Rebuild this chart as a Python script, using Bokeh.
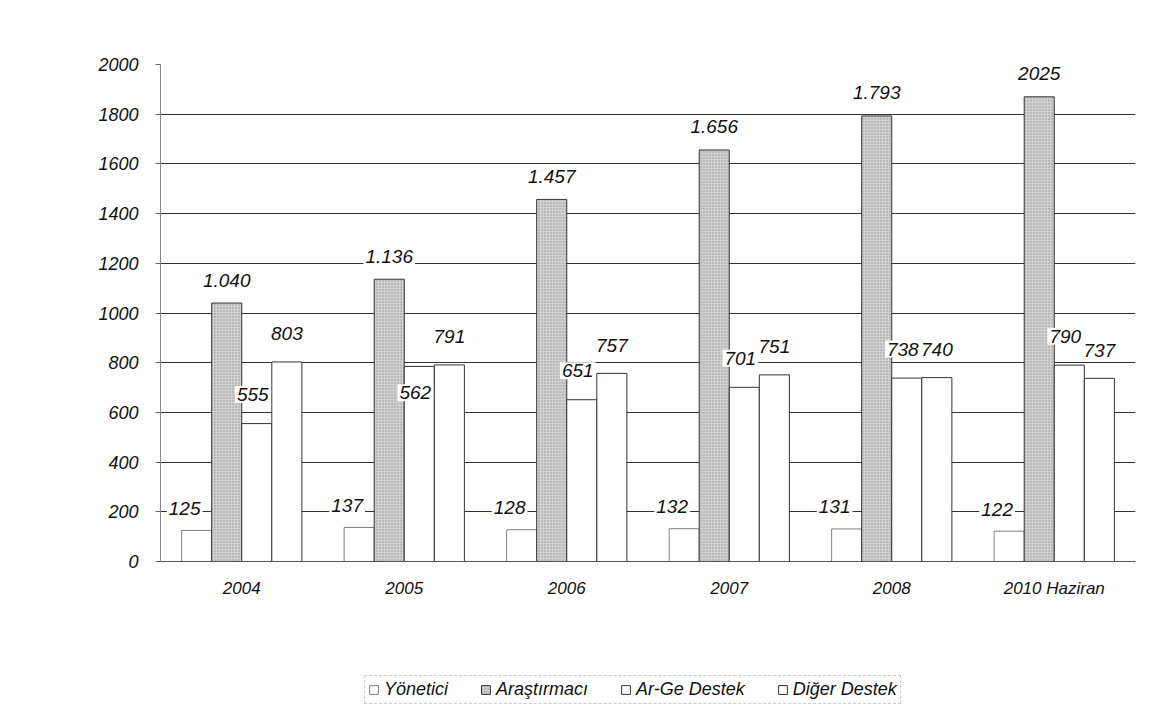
from bokeh.plotting import figure
from bokeh.models import ColumnDataSource, Legend, LegendItem, Range1d, FactorRange, FixedTicker
from bokeh.transform import dodge
from bokeh.core.properties import value
from bokeh.embed import file_html
from bokeh.resources import INLINE

years = ["2004", "2005", "2006", "2007", "2008", "2010 Haziran"]
yonetici = [125, 137, 128, 132, 131, 122]
arastirmaci_values = [1040, 1136, 1457, 1656, 1793, 2025]
arastirmaci_bars = [1040, 1136, 1457, 1656, 1793, 1870]
arastirmaci_labels = ["1.040", "1.136", "1.457", "1.656", "1.793", "2025"]
arge_values = [555, 562, 651, 701, 738, 790]
arge_bars = [555, 785, 651, 701, 738, 790]
diger = [803, 791, 757, 751, 740, 737]
y_ticks = [0, 200, 400, 600, 800, 1000, 1200, 1400, 1600, 1800, 2000]

src = ColumnDataSource(dict(
    year=years,
    yon=yonetici,
    yon_l=[str(v) for v in yonetici],
    ara=arastirmaci_bars,
    ara_y=[min(a, b) for a, b in zip(arastirmaci_values, arastirmaci_bars)],
    ara_l=arastirmaci_labels,
    arg=arge_bars,
    arg_y=[min(a, b) for a, b in zip(arge_values, arge_bars)],
    arg_l=[str(v) for v in arge_values],
    dig=diger,
    dig_l=[str(v) for v in diger],
))

FONT = "Liberation Sans"

# frame: top at 64px, bottom at 705px; value 0 sits at 561px (room below for labels + legend)
FRAME_TOP, ZERO_Y, FRAME_BOTTOM = 64, 561, 705
ymax = y_ticks[-1]
ymin = -(FRAME_BOTTOM - ZERO_Y) * ymax / (ZERO_Y - FRAME_TOP)

p = figure(
    x_range=FactorRange(*years), y_range=Range1d(ymin, ymax),
    width=1154, height=FRAME_BOTTOM,
    min_border_left=160, min_border_right=19, min_border_top=FRAME_TOP, min_border_bottom=0,
    output_backend="svg", toolbar_location=None,
)
p.x_range.range_padding = 0
p.outline_line_color = None
p.background_fill_color = "white"
p.border_fill_color = "white"

bw = 0.185
offs = [-1.5 * bw, -0.5 * bw, 0.5 * bw, 1.5 * bw]

r_yon = p.vbar(x=dodge("year", offs[0], range=p.x_range), top="yon", bottom=0, width=bw, source=src,
               fill_color="white", line_color="#808080", line_width=1)
r_ara = p.vbar(x=dodge("year", offs[1], range=p.x_range), top="ara", bottom=0, width=bw, source=src,
               fill_color="#d0d0d0", line_color="#333333", line_width=1,
               hatch_pattern="dot", hatch_color="#444444", hatch_scale=3, hatch_weight=1, hatch_alpha=0.4)
r_arg = p.vbar(x=dodge("year", offs[2], range=p.x_range), top="arg", bottom=0, width=bw, source=src,
               fill_color="white", line_color="#333333", line_width=1)
r_dig = p.vbar(x=dodge("year", offs[3], range=p.x_range), top="dig", bottom=0, width=bw, source=src,
               fill_color="white", line_color="#333333", line_width=1)

label_specs = [
    (offs[0], "yon", "yon_l", -12, -22),
    (offs[1], "ara_y", "ara_l", 0, -23),
    (offs[2], "arg_y", "arg_l", -4, -29),
    (offs[3], "dig", "dig_l", 0, -28),
]
for off, ycol, tcol, xo, yo in label_specs:
    p.text(x=dodge("year", off, range=p.x_range), y=ycol, text=tcol, source=src,
           x_offset=xo, y_offset=yo,
           text_align="center", text_baseline="middle",
           text_font=value(FONT), text_font_style="italic", text_font_size="19px",
           text_color="#111111",
           background_fill_color="white", padding=2)

# axes
p.yaxis.ticker = FixedTicker(ticks=y_ticks)
p.yaxis.bounds = (0, ymax)
p.yaxis.axis_line_color = "#888888"
p.yaxis.major_tick_out = 5
p.yaxis.major_tick_in = 0
p.yaxis.minor_tick_line_color = None
p.yaxis.major_tick_line_color = "#666666"
p.yaxis.major_label_standoff = 17
p.yaxis.major_label_text_font = FONT
p.yaxis.major_label_text_font_style = "italic"
p.yaxis.major_label_text_font_size = "18px"
p.yaxis.major_label_text_color = "#111111"

p.xaxis.fixed_location = 0
p.xaxis.axis_line_color = "#555555"
p.xaxis.major_tick_line_color = None
p.xaxis.minor_tick_line_color = None
p.xaxis.major_label_standoff = 11
p.xaxis.major_label_text_font = FONT
p.xaxis.major_label_text_font_style = "italic"
p.xaxis.major_label_text_font_size = "17px"
p.xaxis.major_label_text_color = "#111111"

p.xgrid.grid_line_color = None
p.ygrid.ticker = FixedTicker(ticks=y_ticks)
p.ygrid.grid_line_color = "#333333"
p.ygrid.grid_line_width = 1

legend = Legend(items=[
    LegendItem(label="Yönetici", renderers=[r_yon]),
    LegendItem(label="Araştırmacı", renderers=[r_ara]),
    LegendItem(label="Ar-Ge Destek", renderers=[r_arg]),
    LegendItem(label="Diğer Destek", renderers=[r_dig]),
], orientation="horizontal", location=(204, 1))
legend.glyph_width = 11
legend.glyph_height = 11
legend.label_standoff = 5
legend.spacing = 32
legend.padding = 3
legend.margin = 0
legend.label_text_font = FONT
legend.label_text_font_style = "italic"
legend.label_text_font_size = "18px"
legend.label_text_color = "#111111"
legend.border_line_color = "#999999"
legend.border_line_dash = "dotted"
legend.background_fill_color = "white"
p.add_layout(legend, "center")

open("out.html", "w").write(file_html(p, INLINE))
